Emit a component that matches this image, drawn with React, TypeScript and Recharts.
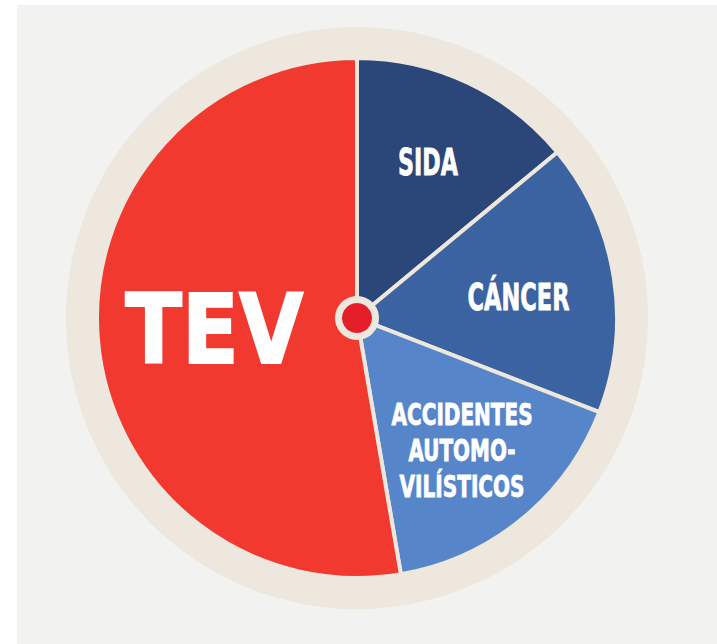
import React from 'react';
import { PieChart, Pie, Cell } from 'recharts';

// causes of death, clockwise from 12 o'clock
const causes = ['SIDA', 'CÁNCER', 'ACCIDENTES AUTOMOVILÍSTICOS', 'TEV'];
const shares = [14, 16.9, 16.4, 52.7];
const labelLines = [['SIDA'], ['CÁNCER'], ['ACCIDENTES', 'AUTOMO-', 'VILÍSTICOS'], ['TEV']];

const COLORS = ['#2b4678', '#3b62a1', '#5686c9', '#f1392f'];
const RING = '#ede7dd';
const DOT = '#e41f2a';

const CONDENSED = '"DejaVu Sans Condensed", "Liberation Sans Narrow", "DejaVu Sans", sans-serif';

// label placement: radius from centre, angle shift vs slice middle, font size, line widths
const LABEL_STYLE = [
  { r: 172, shift: 0.8, size: 37, gap: 0, widths: [60], family: CONDENSED },
  { r: 163, shift: -1.6, size: 37, gap: 0, widths: [102], family: CONDENSED },
  { r: 169, shift: -0.8, size: 30, gap: 36, widths: [141, 107, 125], family: CONDENSED },
  { r: 143, shift: -1, size: 97, gap: 0, widths: [178], family: '"DejaVu Sans", sans-serif' },
];

const data = causes.map((name, i) => ({ name, value: shares[i] }));

const renderLabel = (props: any) => {
  const { cx, cy, midAngle, index } = props;
  const st = LABEL_STYLE[index];
  const lines = labelLines[index];
  const a = ((midAngle + st.shift) * Math.PI) / 180;
  const x = cx + st.r * Math.cos(a);
  const y = cy - st.r * Math.sin(a);
  const cap = st.size * 0.729;
  const blockH = cap + st.gap * (lines.length - 1);
  const firstBase = y - blockH / 2 + cap;
  return (
    <g key={`lbl-${index}`}>
      {lines.map((t, k) => (
        <text
          key={k}
          x={x}
          y={firstBase + k * st.gap}
          textAnchor="middle"
          fill="#ffffff"
          stroke="#ffffff"
          strokeWidth={index === 3 ? 2 : 0.8}
          fontFamily={st.family}
          fontWeight={700}
          fontSize={st.size}
          textLength={st.widths[k]}
          lengthAdjust="spacingAndGlyphs"
        >
          {t}
        </text>
      ))}
    </g>
  );
};

export default function App() {
  return (
    <div style={{ position: 'absolute', left: 0, top: 0, width: 717, height: 644, background: '#ffffff' }}>
      <div style={{ position: 'absolute', left: 17, top: 5, width: 700, height: 639, background: '#f2f2f1' }} />
      <div style={{ position: 'absolute', left: 0, top: 0 }}>
        <PieChart width={717} height={644} margin={{ top: 0, right: 0, bottom: 0, left: 0 }}>
          <Pie
            data={[{ name: 'ring', value: 1 }]}
            dataKey="value"
            cx={357}
            cy={318}
            outerRadius={291}
            fill={RING}
            stroke="none"
            isAnimationActive={false}
          />
          <Pie
            data={data}
            dataKey="value"
            cx={357}
            cy={318}
            startAngle={90}
            endAngle={-270}
            innerRadius={0}
            outerRadius={260}
            stroke={RING}
            strokeWidth={4}
            label={renderLabel}
            labelLine={false}
            isAnimationActive={false}
          >
            {data.map((d, i) => (
              <Cell key={`cell-${i}`} fill={COLORS[i]} />
            ))}
          </Pie>
          <Pie
            data={[{ name: 'hub', value: 1 }]}
            dataKey="value"
            cx={357}
            cy={318}
            outerRadius={22}
            fill={RING}
            stroke="none"
            isAnimationActive={false}
          />
          <Pie
            data={[{ name: 'dot', value: 1 }]}
            dataKey="value"
            cx={357}
            cy={318}
            outerRadius={15}
            fill={DOT}
            stroke="none"
            isAnimationActive={false}
          />
        </PieChart>
      </div>
    </div>
  );
}
